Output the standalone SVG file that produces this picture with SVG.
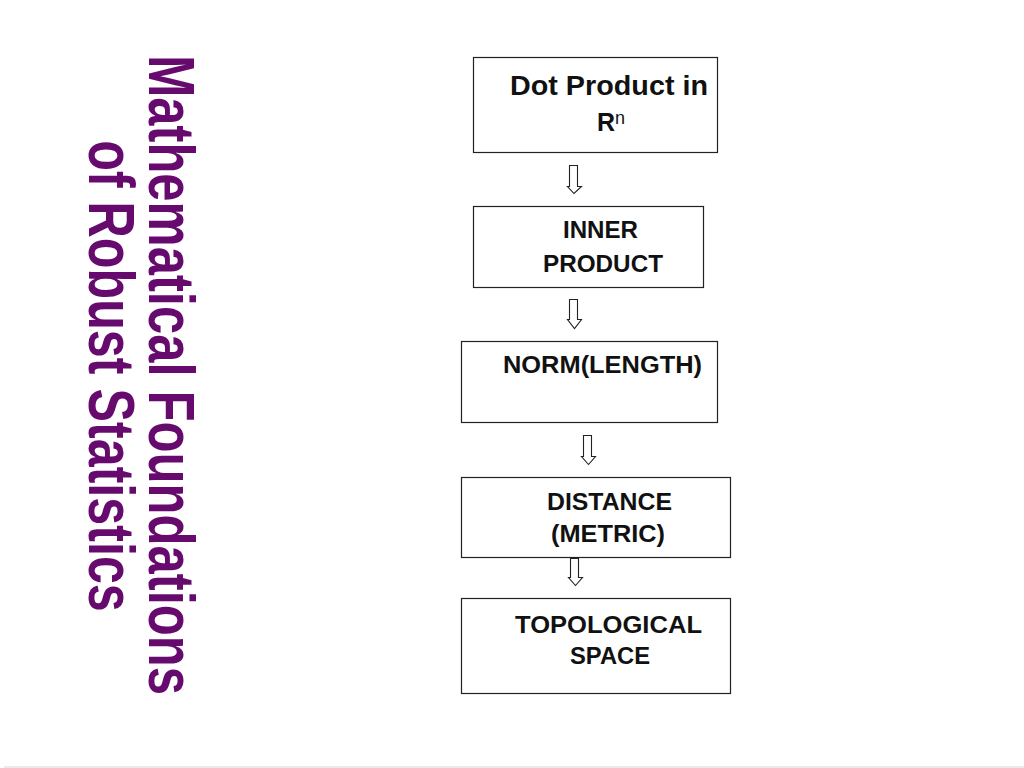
<svg xmlns="http://www.w3.org/2000/svg" width="1024" height="768" viewBox="0 0 1024 768">
<defs>
<style>
.box{fill:#ffffff;stroke:#222222;stroke-width:1.2}
.lbl{font-family:"Liberation Sans",Arial,sans-serif;font-weight:bold;fill:#111111}
.arr{fill:#ffffff;stroke:#222222;stroke-width:1.1;stroke-linejoin:miter}
.title{font-family:"Liberation Sans",Arial,sans-serif;font-weight:bold;fill:#660a6e;font-size:64px}
</style>
</defs>
<rect x="0" y="0" width="1024" height="768" fill="#ffffff"/>
<rect x="4" y="766" width="1020" height="2" fill="#ebebeb"/>
<g id="title">
<text class="title" transform="translate(149,375) rotate(90) scale(0.793,1)" text-anchor="middle">Mathematical Foundations</text>
<text class="title" transform="translate(89,376) rotate(90) scale(0.785,1)" text-anchor="middle">of Robust Statistics</text>
</g>
<g id="node-dot">
<rect class="box" x="473.5" y="57.5" width="244" height="95"/>
<text class="lbl" x="510" y="95" font-size="27" textLength="198" lengthAdjust="spacingAndGlyphs">Dot Product in</text>
<text class="lbl" x="597" y="131" font-size="25">R<tspan font-size="18" font-weight="normal" dy="-7">n</tspan></text>
</g>
<g id="node-inner">
<rect class="box" x="473.5" y="206.5" width="230" height="81"/>
<text class="lbl" x="563" y="238" font-size="23" textLength="75" lengthAdjust="spacingAndGlyphs">INNER</text>
<text class="lbl" x="543" y="272" font-size="23" textLength="120" lengthAdjust="spacingAndGlyphs">PRODUCT</text>
</g>
<g id="node-norm">
<rect class="box" x="461.5" y="341.5" width="256" height="81"/>
<text class="lbl" x="503" y="373" font-size="24" textLength="199" lengthAdjust="spacingAndGlyphs">NORM(LENGTH)</text>
</g>
<g id="node-distance">
<rect class="box" x="461.5" y="477.5" width="269" height="80"/>
<text class="lbl" x="547" y="510" font-size="24" textLength="125" lengthAdjust="spacingAndGlyphs">DISTANCE</text>
<text class="lbl" x="551" y="542" font-size="24" textLength="114" lengthAdjust="spacingAndGlyphs">(METRIC)</text>
</g>
<g id="node-topo">
<rect class="box" x="461.5" y="598.5" width="269" height="95"/>
<text class="lbl" x="515" y="633" font-size="24" textLength="187" lengthAdjust="spacingAndGlyphs">TOPOLOGICAL</text>
<text class="lbl" x="570" y="664" font-size="24" textLength="80" lengthAdjust="spacingAndGlyphs">SPACE</text>
</g>
<g id="connectors">
<path class="arr" d="M569.5,165.5 H577.5 V186.5 H581.5 L574,193.5 L567.5,186.5 H569.5 Z"/>
<path class="arr" d="M569.5,299.5 H577.5 V319.5 H581.5 L574.5,328.5 L567.5,319.5 H569.5 Z"/>
<path class="arr" d="M583.5,435.5 H591.5 V456.5 H595.5 L588.5,464.5 L581.5,456.5 H583.5 Z"/>
<path class="arr" d="M570.5,558.5 H578.5 V577.5 H582.5 L575.5,585.5 L568.5,577.5 H570.5 Z"/>
</g>
</svg>
